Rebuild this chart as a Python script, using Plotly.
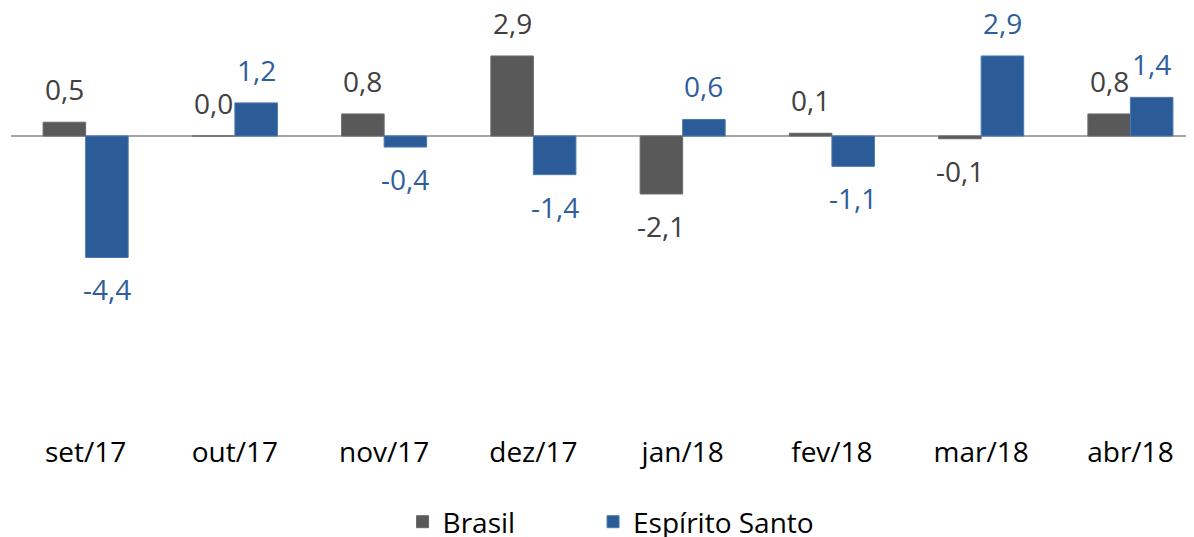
import plotly.graph_objects as go

categories = ["set/17", "out/17", "nov/17", "dez/17", "jan/18", "fev/18", "mar/18", "abr/18"]
brasil = [0.5, 0.0, 0.8, 2.9, -2.1, 0.1, -0.1, 0.8]
espirito_santo = [-4.4, 1.2, -0.4, -1.4, 0.6, -1.1, 2.9, 1.4]

# page body has an 8px default margin, so the figure is drawn at (8, 8)
W, H = 1186, 529
FONT = "Open Sans"
FS = 28
C_BR = "#595959"
C_ES = "#2c5c98"
TXT_BR = "#404040"
TXT_ES = "#2e5e9b"

def fmt(v):
    return f"{v:.1f}".replace(".", ",")

fig = go.Figure()
fig.add_trace(go.Bar(x=categories, y=brasil, name="Brasil", legend="legend",
                     marker=dict(color=C_BR, line=dict(color="#6a6a6a", width=1))))
fig.add_trace(go.Bar(x=categories, y=espirito_santo, name="Espírito Santo", legend="legend2",
                     marker=dict(color=C_ES, line=dict(color="#4a78b2", width=1))))

bargap = 0.43
half = (1 - bargap) / 4
annotations = []
for series, sign, col in ((brasil, -1, TXT_BR), (espirito_santo, 1, TXT_ES)):
    for i, v in enumerate(series):
        pos = v >= 0
        annotations.append(dict(
            x=i + sign * half, y=v, xref="x", yref="y", text=fmt(v),
            showarrow=False, yanchor="middle", xanchor="center",
            yshift=33 if pos else -32,
            font=dict(family=FONT, size=FS, color=col)))

legend_common = dict(orientation="h", y=-0.2094, yanchor="middle", xanchor="left",
                     font=dict(family=FONT, size=FS, color="#000000"),
                     bgcolor="rgba(0,0,0,0)")

fig.update_layout(
    width=W, height=H,
    margin=dict(l=3, r=0, t=0, b=104, autoexpand=False),
    plot_bgcolor="white", paper_bgcolor="white",
    barmode="group", bargap=bargap, bargroupgap=0,
    font=dict(family=FONT, size=FS, color="#000000"),
    xaxis=dict(type="category", range=[-0.5, 7.426], showgrid=False, showline=False,
               ticks="", automargin=False,
               tickfont=dict(family=FONT, size=FS, color="#000000")),
    yaxis=dict(range=[-10.76, 4.638], showgrid=False, showticklabels=False, automargin=False,
               zeroline=True, zerolinecolor="#a6a6a6", zerolinewidth=2),
    showlegend=True,
    legend=dict(x=0.331, **legend_common),
    legend2=dict(x=0.492, **legend_common),
    annotations=annotations,
)

fig.write_html("out.html")
